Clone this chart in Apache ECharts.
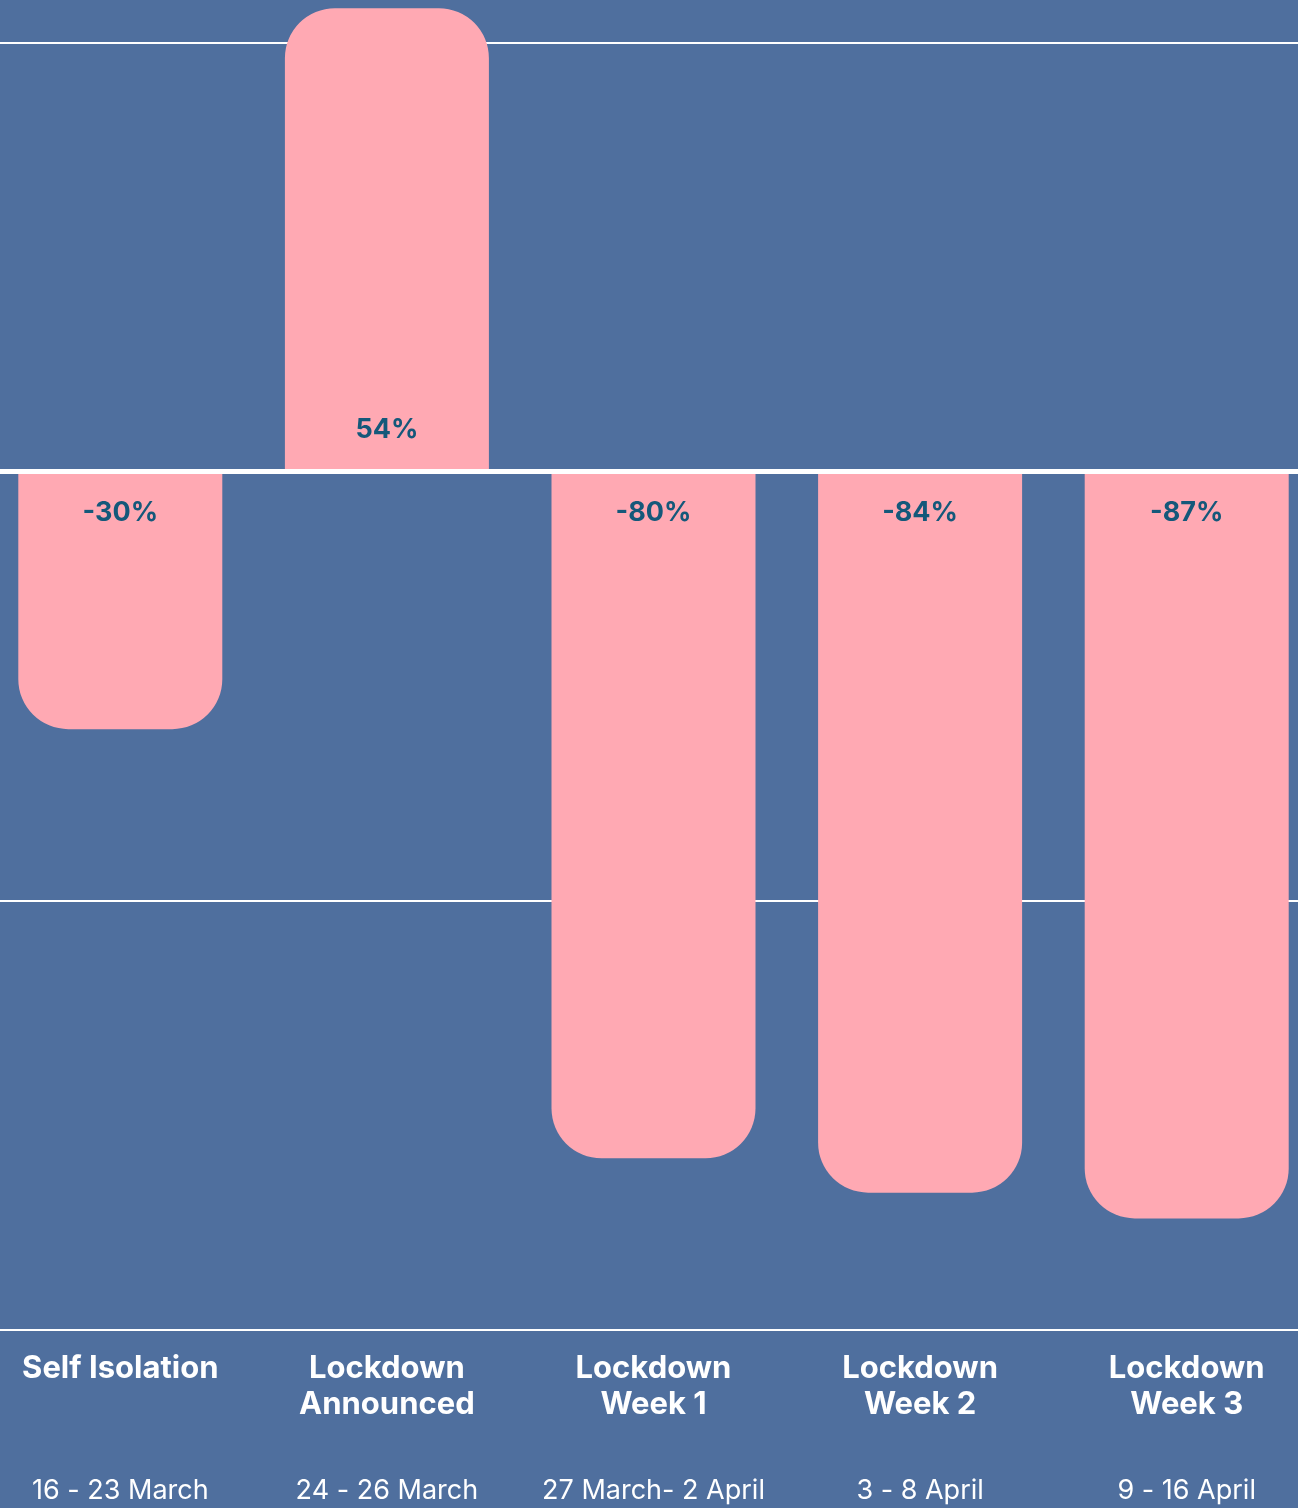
<!DOCTYPE html>
<html lang="en">

<head>
    <meta http-equiv="content-type" content="txt/html; charset=utf-8"/>
    <title>Lockdown change</title>
    <script src="https://cdn.jsdelivr.net/npm/echarts@6/dist/echarts.min.js"></script>
    <style>
        html, body {
            height: 100%;
            margin: 0;
            background: #4f6f9e;
        }

        .chart {
            width: 1298px;
            height: 1508px;
        }
    </style>
</head>

<body>
<div class="chart"></div>
<script>
    // data
    const periods = ["Self Isolation", "Lockdown\nAnnounced", "Lockdown\nWeek 1", "Lockdown\nWeek 2", "Lockdown\nWeek 3"];
    const dates = ["16 - 23 March", "24 - 26 March", "27 March- 2 April", "3 - 8 April", "9 - 16 April"];
    const change = [-30, 54, -80, -84, -87];
    const yTicks = [-100, -50, 0, 50];

    const PINK = "#ffa9b3";
    const TEXT = "#14587a";
    const R = 50;

    const chart = echarts.init(document.querySelector(".chart"));

    const barData = change.map(function (v) {
        return {
            value: v,
            itemStyle: {borderRadius: v >= 0 ? [R, R, 0, 0] : [0, 0, R, R]},
            label: {position: v >= 0 ? "insideBottom" : "insideTop"}
        };
    });

    const option = {
        backgroundColor: "#4f6f9e",
        animation: false,
        grid: {left: -13, right: -22, top: -3, bottom: 178, outerBoundsMode: "none", containLabel: false},
        xAxis: {
            type: "category",
            data: periods.map(function (p, i) { return i; }),
            axisLine: {onZero: false, lineStyle: {color: "#fff", width: 2}},
            axisTick: {show: false},
            axisLabel: {
                interval: 0,
                margin: 21,
                formatter: function (v) {
                    let t = periods[v].split("\n");
                    if (t.length < 2) t.push(" ");
                    return "{t|" + t[0] + "}\n{t|" + t[1] + "}\n{s| }\n{d|" + dates[v] + "}";
                },
                rich: {
                    t: {fontFamily: "Inter", fontWeight: "bold", fontSize: 31, color: "#fff", lineHeight: 36},
                    s: {fontSize: 10, lineHeight: 50},
                    d: {fontFamily: "Inter", fontSize: 27, color: "#fff", lineHeight: 36}
                }
            }
        },
        yAxis: {
            type: "value",
            min: yTicks[0],
            max: 55.3,
            interval: 50,
            axisLine: {show: false},
            axisTick: {show: false},
            axisLabel: {show: false},
            splitLine: {lineStyle: {color: "#fff", width: 2}}
        },
        series: [{
            type: "bar",
            data: barData,
            barWidth: 204,
            itemStyle: {color: PINK},
            label: {
                show: true,
                distance: 28,
                color: TEXT,
                fontFamily: "Inter",
                fontWeight: "bold",
                fontSize: 27,
                formatter: function (p) { return p.value + "%"; }
            },
            markLine: {
                silent: true,
                symbol: "none",
                label: {show: false},
                lineStyle: {color: "#fff", width: 5, type: "solid"},
                data: [{yAxis: 0}]
            }
        }]
    };
    chart.setOption(option);
</script>
</body>

</html>
